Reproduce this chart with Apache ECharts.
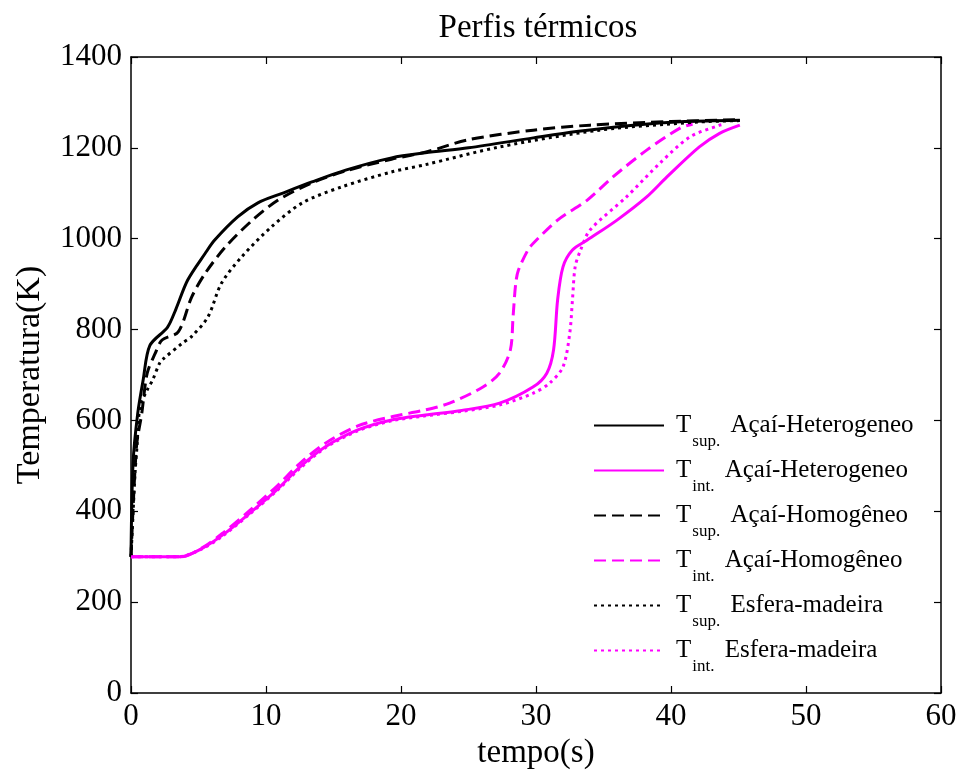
<!DOCTYPE html>
<html>
<head>
<meta charset="utf-8">
<script src="https://cdn.jsdelivr.net/npm/echarts@6/dist/echarts.min.js"></script>
<style>html,body{margin:0;padding:0;background:#fff}#c{width:961px;height:776px}</style>
</head>
<body>
<div id="c"></div>
<script>
// Data (tempo in s, temperatura in K)
const tSupHet = [0, 0.15, 0.5, 0.9, 1.4, 2.7, 3.3, 4.2, 5.5, 6.2, 7.9, 9.4, 11.2, 13.4, 15.9, 19.3, 21.8, 25, 29.8, 33, 37.2, 41, 45.1];
const TSupHet = [300, 506, 616, 689, 765, 805, 843, 909, 968, 997, 1048, 1079, 1100, 1125, 1151, 1178, 1189, 1200, 1222, 1236, 1250, 1258, 1261];

const tSupHom = [0, 0.4, 0.8, 1.2, 1.8, 2.3, 3.5, 4.5, 5.5, 7.0, 9.0, 10.9, 13.4, 16, 19.3, 22, 25, 29.8, 34, 40, 45.1];
const TSupHom = [300, 541, 616, 704, 748, 777, 795, 872, 924, 982, 1041, 1085, 1123, 1150, 1175, 1192, 1218, 1239, 1250, 1258, 1262];

const tSupEsf = [0, 0.3, 0.44, 0.67, 1.2, 1.6, 2.1, 2.3, 3.8, 4.5, 5.7, 6.7, 8.2, 10.4, 12.7, 15.6, 19.3, 21.8, 27.3, 34.7, 42.1, 45.1];
const TSupEsf = [300, 484, 541, 630, 667, 689, 725, 733, 770, 785, 828, 902, 960, 1026, 1079, 1114, 1147, 1163, 1202, 1239, 1257, 1260];

const tIntHet = [0, 3.7, 5.3, 6.8, 8.8, 10.8, 12.5, 14.4, 16.8, 19.3, 21.8, 24.5, 27.3, 29.8, 30.8, 31.3, 31.6, 32.0, 32.7, 33.8, 36, 38.2, 39.7, 42.1, 43.6, 45.1];
const TIntHet = [300, 300, 319, 348, 396, 447, 497, 542, 579, 601, 612, 622, 638, 674, 704, 755, 865, 938, 975, 997, 1041, 1092, 1136, 1202, 1232, 1250];

const tIntHom = [0, 3.7, 5.3, 6.8, 8.8, 10.8, 12.5, 14.4, 16.8, 19.3, 21.8, 23.6, 26.1, 27.3, 28.1, 28.3, 28.5, 28.7, 29.4, 29.8, 31.6, 33.8, 35.7, 38.2, 40.7, 41.6];
const TIntHom = [300, 300, 320, 352, 402, 455, 505, 550, 588, 608, 623, 638, 674, 704, 755, 828, 902, 931, 975, 990, 1041, 1085, 1136, 1195, 1244, 1252];

const tIntEsf = [0, 3.5, 5.3, 6.8, 8.8, 10.8, 12.5, 14.4, 16.8, 19.3, 21.8, 24.5, 27.3, 29.8, 31, 32, 32.5, 32.7, 32.9, 33.3, 34, 36.7, 39.2, 41.4, 43.6, 43.9];
const TIntEsf = [300, 300, 318, 346, 394, 445, 494, 540, 577, 599, 610, 620, 634, 660, 682, 718, 792, 865, 938, 975, 1019, 1092, 1167, 1224, 1250, 1252];

const xTicks = [0, 10, 20, 30, 40, 50, 60];
const yTicks = [0, 200, 400, 600, 800, 1000, 1200, 1400];

const seriesNames = ['Tsup. Açaí-Heterogeneo', 'Tint. Açaí-Heterogeneo', 'Tsup. Açaí-Homogêneo', 'Tint. Açaí-Homogêneo', 'Tsup. Esfera-madeira', 'Tint. Esfera-madeira'];
const legendSub = ['sup.', 'int.', 'sup.', 'int.', 'sup.', 'int.'];
const legendText = ['Açaí-Heterogeneo', 'Açaí-Heterogeneo', 'Açaí-Homogêneo', 'Açaí-Homogêneo', 'Esfera-madeira', 'Esfera-madeira'];

function pairs(t, v) { return t.map((x, i) => [x, v[i]]); }

const FONT = '"Liberation Serif", "Times New Roman", serif';
const MAG = '#FF00FF';
const DASH = [12, 6];
const DOT = [3, 4];

const dataSets = [
  [tSupHet, TSupHet, '#000', 'solid'],
  [tIntHet, TIntHet, MAG, 'solid'],
  [tSupHom, TSupHom, '#000', DASH],
  [tIntHom, TIntHom, MAG, DASH],
  [tSupEsf, TSupEsf, '#000', DOT],
  [tIntEsf, TIntEsf, MAG, DOT]
];

const series = dataSets.map((d, i) => ({
  name: seriesNames[i],
  type: 'line',
  data: pairs(d[0], d[1]),
  showSymbol: false,
  symbol: 'none',
  smooth: 0.3,
  animation: false,
  lineStyle: { color: d[2], width: 3, type: d[3] },
  itemStyle: { color: d[2] }
}));

const rowY = [426, 471, 516, 561, 606, 651];
const legends = seriesNames.map((name, i) => ({
  orient: 'vertical',
  left: 588, top: rowY[i] - 30,
  itemWidth: 70, itemHeight: 14,
  data: [name],
  selectedMode: false,
  itemStyle: { opacity: 0, borderWidth: 0 },
  formatter: function (n) {
    return '{t|T}{s|' + legendSub[i] + '}{n| ' + legendText[i] + '}';
  },
  textStyle: {
    fontFamily: FONT, color: '#000',
    rich: {
      t: { fontFamily: FONT, fontSize: 25, lineHeight: 30, padding: [0, 0, 0, 7], color: '#000' },
      s: { fontFamily: FONT, fontSize: 17, lineHeight: 30, padding: [32, 4, 0, 1], color: '#000' },
      n: { fontFamily: FONT, fontSize: 25, lineHeight: 30, color: '#000' }
    }
  }
}));

const chart = echarts.init(document.getElementById('c'), null, { renderer: 'canvas' });

const axisCommon = {
  axisLine: { show: true, onZero: false, lineStyle: { color: '#000', width: 1.5 } },
  axisTick: { show: true, inside: true, length: 7, lineStyle: { color: '#000', width: 1.2 } },
  splitLine: { show: false }
};

chart.setOption({
  backgroundColor: '#fff',
  animation: false,
  title: {
    text: 'Perfis térmicos',
    left: 533, top: 7, textAlign: 'center',
    textStyle: { fontFamily: FONT, fontSize: 33, fontWeight: 'normal', color: '#000' }
  },
  grid: { left: 131, right: 20, top: 57, bottom: 83, containLabel: false },
  legend: legends,
  xAxis: [
    Object.assign({}, axisCommon, {
      type: 'value', min: 0, max: 60, interval: 10, position: 'bottom',
      name: 'tempo(s)', nameLocation: 'middle', nameGap: 42,
      nameTextStyle: { fontFamily: FONT, fontSize: 33, color: '#000' },
      axisLabel: { fontFamily: FONT, fontSize: 31, color: '#000', margin: 8, formatter: v => String(v) }
    }),
    Object.assign({}, axisCommon, {
      type: 'value', min: 0, max: 60, interval: 10, position: 'top',
      axisLabel: { show: false }
    })
  ],
  yAxis: [
    Object.assign({}, axisCommon, {
      type: 'value', min: 0, max: 1400, interval: 200, position: 'left',
      name: 'Temperatura(K)', nameLocation: 'middle', nameGap: 84,
      nameTextStyle: { fontFamily: FONT, fontSize: 34, color: '#000' },
      axisLabel: { fontFamily: FONT, fontSize: 31, color: '#000', margin: 9, formatter: v => String(v) }
    }),
    Object.assign({}, axisCommon, {
      type: 'value', min: 0, max: 1400, interval: 200, position: 'right',
      axisLabel: { show: false }
    })
  ],
  series: series
});
</script>
</body>
</html>
